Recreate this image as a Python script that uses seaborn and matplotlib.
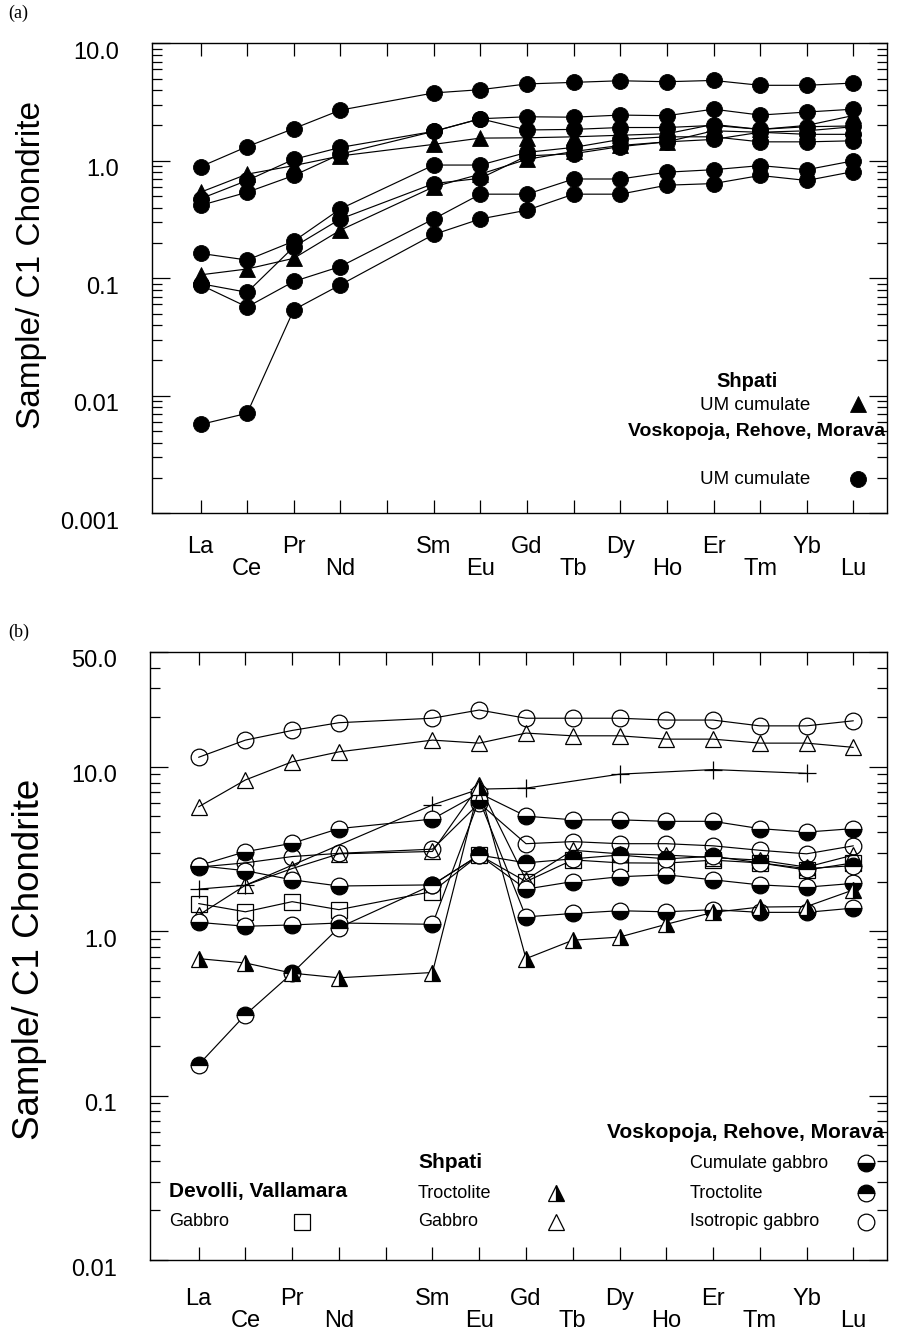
#!/usr/bin/env python3
"""
Chondrite-normalised REE patterns.
(a) ultramafic cumulates, (b) gabbros and troctolites.
"""

import numpy as np
import pandas as pd
import matplotlib
matplotlib.use("Agg")
import matplotlib.pyplot as plt
import seaborn as sns
from matplotlib.lines import Line2D
from matplotlib.ticker import FixedLocator, FixedFormatter, LogLocator, NullFormatter, NullLocator
from matplotlib.transforms import ScaledTranslation

FIG_W, FIG_H = 897, 1343

ELEMENTS = ["La", "Ce", "Pr", "Nd", "Pm", "Sm", "Eu", "Gd", "Tb", "Dy", "Ho", "Er", "Tm", "Yb", "Lu"]
REE = ["La", "Ce", "Pr", "Nd", "Sm", "Eu", "Gd", "Tb", "Dy", "Ho", "Er", "Tm", "Yb", "Lu"]
UPPER_ROW = ["La", "Pr", "Sm", "Gd", "Dy", "Er", "Yb"]

# ---- panel (a): UM cumulates -------------------------------------------
a_vrm_1 = [0.89, 1.32, 1.88, 2.70, 3.78, 4.03, 4.51, 4.65, 4.80, 4.71, 4.83, 4.39, 4.39, 4.59]
a_vrm_2 = [0.475, 0.68, 1.03, 1.30, 1.78, 2.28, 2.37, 2.35, 2.45, 2.42, 2.75, 2.45, 2.60, 2.75]
a_vrm_3 = [0.417, 0.54, 0.75, 1.14, 1.78, 2.28, 1.83, 1.85, 1.92, 1.92, 2.00, 1.85, 1.95, 1.98]
a_vrm_4 = [0.163, 0.143, 0.207, 0.39, 0.92, 0.92, 1.18, 1.30, 1.52, 1.60, 1.60, 1.45, 1.45, 1.48]
a_vrm_5 = [0.090, 0.076, 0.185, 0.32, 0.64, 0.71, 1.10, 1.15, 1.32, 1.45, 1.52, 1.75, 1.68, 1.68]
a_vrm_6 = [0.088, 0.057, 0.094, 0.126, 0.32, 0.52, 0.52, 0.70, 0.70, 0.80, 0.84, 0.91, 0.84, 1.00]
a_vrm_7 = [0.0057, 0.0071, 0.054, 0.088, 0.236, 0.32, 0.38, 0.52, 0.52, 0.62, 0.64, 0.75, 0.68, 0.81]
a_shpati_1 = [0.54, 0.77, 0.91, 1.10, 1.38, 1.56, 1.57, 1.60, 1.65, 1.70, 2.04, 1.85, 2.00, 2.43]
a_shpati_2 = [0.107, 0.12, 0.148, 0.257, 0.60, 0.77, 1.03, 1.20, 1.35, 1.45, 1.80, 1.75, 1.80, 1.95]

# ---- panel (b): gabbros / troctolites -----------------------------------
b_iso_1 = [11.4, 14.5, 16.6, 18.5, 19.7, 22.1, 19.7, 19.7, 19.7, 19.2, 19.2, 17.7, 17.7, 19.0]
b_iso_2 = [2.45, 2.60, 2.84, 2.97, 3.15, 6.0, 3.40, 3.50, 3.40, 3.40, 3.30, 3.10, 2.95, 3.30]
b_cum_1 = [2.50, 3.04, 3.42, 4.20, 4.80, 6.9, 5.00, 4.75, 4.75, 4.65, 4.65, 4.20, 4.00, 4.20]
b_cum_2 = [2.50, 2.33, 2.05, 1.88, 1.91, 2.9, 1.80, 2.00, 2.14, 2.20, 2.05, 1.91, 1.85, 1.95]
b_cum_3 = [1.13, 1.07, 1.09, 1.12, 1.10, 6.3, 1.22, 1.28, 1.33, 1.31, 1.35, 1.30, 1.30, 1.38]
b_troct_vrm = [0.154, 0.31, 0.555, 1.05, 1.91, 2.9, 2.60, 2.75, 2.90, 2.75, 2.85, 2.60, 2.40, 2.50]
b_shpati_gab_1 = [5.7, 8.3, 10.7, 12.3, 14.5, 13.9, 16.0, 15.4, 15.4, 14.7, 14.7, 13.9, 13.9, 13.1]
b_shpati_gab_2 = [1.25, 1.90, 2.40, 2.95, 3.05, 7.7, 2.05, 3.10, 2.95, 2.90, 2.80, 2.70, 2.45, 2.90]
b_shpati_troct = [0.68, 0.64, 0.555, 0.52, 0.56, 7.5, 0.68, 0.88, 0.92, 1.10, 1.30, 1.40, 1.41, 1.78]
b_devolli_gab = [1.47, 1.31, 1.51, 1.35, 1.74, 2.9, 2.00, 2.71, 2.60, 2.59, 2.70, 2.60, 2.35, 2.60]
b_plus_elements = ["La", "Ce", "Sm", "Eu", "Gd", "Dy", "Er", "Yb"]
b_plus = [1.80, 1.90, 5.85, 7.3, 7.4, 9.0, 9.6, 9.1]

# ---- marker styles -------------------------------------------------------
A_CIRCLE = dict(marker="o", markersize=11.5, markerfacecolor="black", markeredgecolor="black", markeredgewidth=0.6)
A_TRI = dict(marker="^", markersize=11, markerfacecolor="black", markeredgecolor="black", markeredgewidth=0.6)
B_OPEN_CIRCLE = dict(marker="o", markersize=12, markerfacecolor="none", markeredgecolor="black", markeredgewidth=0.9)
B_CUMULATE = dict(marker="o", markersize=12, fillstyle="bottom", markerfacecolor="black",
                  markerfacecoloralt="white", markeredgecolor="black", markeredgewidth=0.9)
B_TROCT = dict(marker="o", markersize=12, fillstyle="top", markerfacecolor="black",
               markerfacecoloralt="white", markeredgecolor="black", markeredgewidth=0.9)
B_OPEN_TRI = dict(marker="^", markersize=12, markerfacecolor="none", markeredgecolor="black", markeredgewidth=0.9)
B_HALF_TRI = dict(marker="^", markersize=12, fillstyle="right", markerfacecolor="black",
                  markerfacecoloralt="white", markeredgecolor="black", markeredgewidth=0.9)
B_SQUARE = dict(marker="s", markersize=12, markerfacecolor="none", markeredgecolor="black", markeredgewidth=0.9)
B_PLUS = dict(marker="+", markersize=13, markeredgecolor="black", markeredgewidth=0.9)


def fx(x):
    return x / FIG_W


def fy(y):
    return 1 - y / FIG_H


def draw_series(ax, values, style, elements=REE):
    df = pd.DataFrame({"pos": [ELEMENTS.index(e) for e in elements], "value": values})
    sns.lineplot(data=df, x="pos", y="value", ax=ax, estimator=None, sort=True,
                 color="black", linewidth=0.85, legend=False, **style)


def setup_axis(ax, ylim, yticks, ylabels, xpad, ylabel_size, ylabel_y, ylabel_x):
    ax.set_xlim(-1.04, 14.72)
    ax.set_ylim(*ylim)
    ax.set_xlabel("")
    ax.set_ylabel("Sample/ C1 Chondrite", fontsize=ylabel_size, color="black")
    ax.yaxis.set_label_coords(ylabel_x, ylabel_y)

    ax.xaxis.set_major_locator(FixedLocator(range(len(ELEMENTS))))
    xlabels = ["" if e == "Pm" else (e if e in UPPER_ROW else "\n" + e) for e in ELEMENTS]
    ax.xaxis.set_major_formatter(FixedFormatter(xlabels))
    ax.xaxis.set_minor_locator(NullLocator())
    for lab in ax.get_xticklabels():
        lab.set_linespacing(1.0)

    ax.yaxis.set_major_locator(FixedLocator(yticks))
    ax.yaxis.set_major_formatter(FixedFormatter(ylabels))
    ax.yaxis.set_minor_locator(LogLocator(base=10, subs=np.arange(2, 10), numticks=20))
    ax.yaxis.set_minor_formatter(NullFormatter())

    ax.tick_params(which="both", direction="in", top=True, right=True, color="black",
                   labelcolor="black", width=0.9)
    ax.tick_params(axis="x", which="major", length=9.5, labelsize=17, pad=xpad)
    ax.tick_params(axis="y", which="major", length=13, labelsize=17, pad=24)
    ax.tick_params(axis="y", which="minor", length=7.5)
    for side in ax.spines.values():
        side.set_linewidth(1.0)
        side.set_color("black")


sns.set_style("ticks")
plt.rcParams["font.family"] = ["Liberation Sans", "DejaVu Sans"]
plt.rcParams["text.color"] = "black"
plt.rcParams["axes.labelcolor"] = "black"
plt.rcParams["xtick.color"] = "black"
plt.rcParams["ytick.color"] = "black"

fig = plt.figure(figsize=(FIG_W / 100, FIG_H / 100), dpi=100)
ax_a = fig.add_axes([152 / FIG_W, fy(513.3), (887 - 152) / FIG_W, (513.3 - 43.3) / FIG_H])
ax_b = fig.add_axes([150 / FIG_W, fy(1260), (887 - 150) / FIG_W, (1260 - 651.7) / FIG_H])

# ---- panel (a) ----
ax_a.set_yscale("log")
for vals in [a_vrm_1, a_vrm_2, a_vrm_3, a_vrm_4, a_vrm_5, a_vrm_6, a_vrm_7]:
    draw_series(ax_a, vals, A_CIRCLE)
for vals in [a_shpati_1, a_shpati_2]:
    draw_series(ax_a, vals, A_TRI)
setup_axis(ax_a, (0.001, 10), [0.001, 0.01, 0.1, 1, 10],
           ["0.001", "0.01", "0.1", "1.0", "10.0"], xpad=16, ylabel_size=24,
           ylabel_y=0.528, ylabel_x=-0.143)

# ---- panel (b) ----
ax_b.set_yscale("log")
draw_series(ax_b, b_iso_1, B_OPEN_CIRCLE)
draw_series(ax_b, b_shpati_gab_1, B_OPEN_TRI)
draw_series(ax_b, b_plus, B_PLUS, elements=b_plus_elements)
draw_series(ax_b, b_iso_2, B_OPEN_CIRCLE)
draw_series(ax_b, b_shpati_gab_2, B_OPEN_TRI)
draw_series(ax_b, b_devolli_gab, B_SQUARE)
draw_series(ax_b, b_cum_1, B_CUMULATE)
draw_series(ax_b, b_cum_2, B_CUMULATE)
draw_series(ax_b, b_cum_3, B_CUMULATE)
draw_series(ax_b, b_troct_vrm, B_TROCT)
draw_series(ax_b, b_shpati_troct, B_HALF_TRI)
setup_axis(ax_b, (0.01, 50), [0.01, 0.1, 1, 10, 50],
           ["0.01", "0.1", "1.0", "10.0", "50.0"], xpad=20, ylabel_size=26.5,
           ylabel_y=0.495, ylabel_x=-0.14)

# shift y tick labels slightly downward, as in the original
for ax in (ax_a, ax_b):
    for tick in ax.yaxis.get_major_ticks():
        tick.label1.set_transform(tick.label1.get_transform()
                                  + ScaledTranslation(0, -0.07, fig.dpi_scale_trans))

# ---- legends ----
def legend_marker(x, y, style):
    fig.add_artist(Line2D([fx(x)], [fy(y)], transform=fig.transFigure, linestyle="none", **style))


fig.text(fx(716), fy(381), "Shpati", fontsize=14.5, fontweight="bold", va="center")
fig.text(fx(700), fy(406), "UM cumulate", fontsize=13.5, va="center")
legend_marker(858, 404, A_TRI)
fig.text(fx(885), fy(432), "Voskopoja, Rehove, Morava", fontsize=14, fontweight="bold", va="center", ha="right")
fig.text(fx(700), fy(480), "UM cumulate", fontsize=13.5, va="center")
legend_marker(858, 479, A_CIRCLE)

fig.text(fx(884), fy(1132), "Voskopoja, Rehove, Morava", fontsize=15, fontweight="bold", va="center", ha="right")
fig.text(fx(690), fy(1163), "Cumulate gabbro", fontsize=13, va="center")
fig.text(fx(690), fy(1193), "Troctolite", fontsize=13, va="center")
fig.text(fx(690), fy(1222), "Isotropic gabbro", fontsize=13, va="center")
legend_marker(866, 1163, B_CUMULATE)
legend_marker(866, 1193, B_TROCT)
legend_marker(866, 1222, B_OPEN_CIRCLE)

fig.text(fx(418), fy(1163), "Shpati", fontsize=15, fontweight="bold", va="center")
fig.text(fx(418), fy(1193), "Troctolite", fontsize=13, va="center")
fig.text(fx(418), fy(1222), "Gabbro", fontsize=13, va="center")
legend_marker(556, 1193, B_HALF_TRI)
legend_marker(556, 1222, B_OPEN_TRI)

fig.text(fx(169), fy(1192), "Devolli, Vallamara", fontsize=15, fontweight="bold", va="center")
fig.text(fx(169), fy(1222), "Gabbro", fontsize=13, va="center")
legend_marker(302, 1222, B_SQUARE)

fig.text(fx(8), fy(13), "(a)", fontsize=13, family="Liberation Serif", va="center")
fig.text(fx(8), fy(632), "(b)", fontsize=13, family="Liberation Serif", va="center")

fig.savefig("out.png", dpi=100, facecolor="white")
plt.close(fig)
